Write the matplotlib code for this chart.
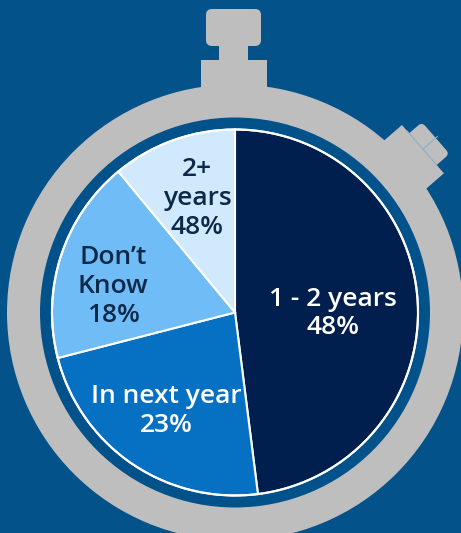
import numpy as np
import matplotlib
matplotlib.use("Agg")
import matplotlib.pyplot as plt
from matplotlib.patches import Circle, Rectangle, FancyBboxPatch
from matplotlib.transforms import Affine2D

# ---- data ----
categories = ["1 - 2 years", "In next year", "Don\u2019t\nKnow", "2+\nyears"]
values = [48, 23, 18, 11]
value_labels = ["48%", "23%", "18%", "48%"]
slice_colors = ["#001F4E", "#0670C3", "#6FBCF6", "#D1E9FD"]
text_colors = ["white", "white", "#0D2848", "#0D2848"]

BG = "#03528A"
GRAY = "#BEBEBE"

W, H = 461, 533
fig = plt.figure(figsize=(W / 100, H / 100), dpi=100)
fig.patch.set_facecolor(BG)
ax = fig.add_axes([0, 0, 1, 1])
ax.axis("off")
ax.set_facecolor(BG)

cx, cy = 235, H - 312.5
R = 183

# label anchor positions (layout, in pixel space from top-left)
label_xy = [(333, 313.5), (166, 411), (113, 286.5), (197, 198.5)]

# crown on top
crown = [
    FancyBboxPatch((206 + 6, H - 46 + 6), 55 - 12, 37 - 12,
                   boxstyle="round,pad=6", fc=GRAY, ec="none"),
    Rectangle((219, H - 61), 29, 16, fc=GRAY, ec="none"),
    Rectangle((201, H - 95), 66, 35, fc=GRAY, ec="none"),
]
for p in crown:
    ax.add_patch(p)

# side button (built pointing up, then rotated around pie centre)
rot = Affine2D().rotate_deg_around(cx, cy, -49) + ax.transData
side = [
    Rectangle((cx - 32, cy + 215), 64, 34, fc=GRAY, ec="none"),
    FancyBboxPatch((cx - 21 + 5, cy + 249), 42 - 10, 17 - 5,
                   boxstyle="round,pad=5", fc=GRAY, ec="none"),
]
for p in side:
    p.set_transform(rot)
    ax.add_patch(p)
ax.plot([cx, cx], [cy + 249, cy + 268], color="#8FAFC8", lw=0.8, transform=rot)
ax.plot([cx - 24, cx + 21], [cy + 249, cy + 249], color="#8FAFC8", lw=0.8, transform=rot)

# ring
ax.add_patch(Circle((cx, cy), 228, fc=GRAY, ec="none"))
ax.add_patch(Circle((cx, cy), 195, fc="#01518A", ec="none"))

wedges, _ = ax.pie(values, colors=slice_colors, startangle=90, counterclock=False,
                   center=(cx, cy), radius=R,
                   wedgeprops=dict(edgecolor="white", linewidth=1.5))
ax.add_patch(Circle((cx, cy), R, fc="none", ec="white", lw=1.5))
ax.set_xlim(0, W)
ax.set_ylim(0, H)
ax.set_aspect("equal")

for (lx, ly), cat, vl, tc in zip(label_xy, categories, value_labels, text_colors):
    ax.text(lx, H - ly, cat + "\n" + vl, ha="center", va="center", color=tc,
            fontsize=19, fontfamily="Open Sans", fontweight="semibold",
            linespacing=1.21, multialignment="center")

fig.savefig("out.png", dpi=100, facecolor=BG)
